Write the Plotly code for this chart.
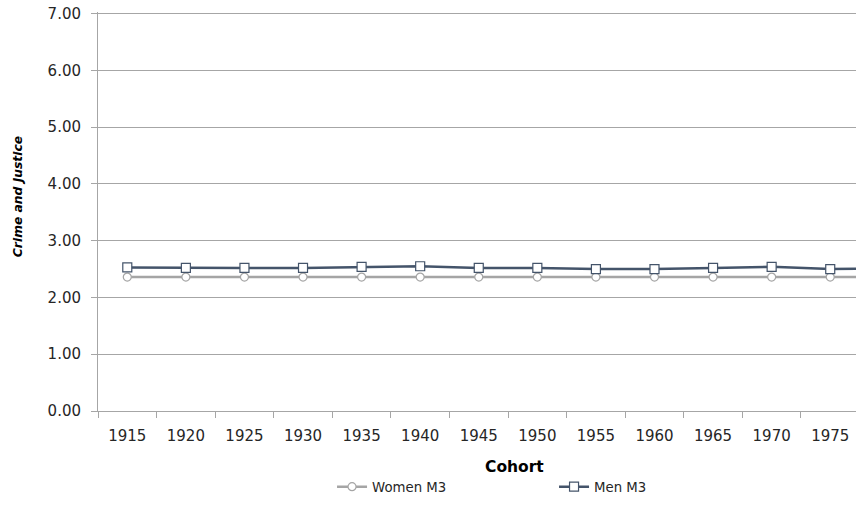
import plotly.graph_objects as go

cohorts = ["1915", "1920", "1925", "1930", "1935", "1940", "1945", "1950",
           "1955", "1960", "1965", "1970", "1975", "1980"]
women_m3 = [2.36, 2.36, 2.36, 2.36, 2.36, 2.36, 2.36, 2.36, 2.36, 2.36, 2.36, 2.36, 2.36, 2.36]
men_m3 = [2.53, 2.52, 2.52, 2.52, 2.54, 2.55, 2.52, 2.52, 2.50, 2.50, 2.52, 2.54, 2.50, 2.51]
y_ticks = [0, 1, 2, 3, 4, 5, 6, 7]
y_labels = ["%.2f" % v for v in y_ticks]

FONT = "DejaVu Sans"
TXT = "#262626"
GRID = "#A6A6A6"

fig = go.Figure()
fig.add_trace(go.Scatter(
    x=cohorts, y=women_m3, name="Women M3", mode="lines+markers",
    line=dict(color="#A5A5A5", width=2.5),
    marker=dict(symbol="circle", size=8, color="white", line=dict(color="#A5A5A5", width=1.2)),
    cliponaxis=True,
))
fig.add_trace(go.Scatter(
    x=cohorts, y=men_m3, name="Men M3", mode="lines+markers",
    line=dict(color="#44546A", width=2.5),
    marker=dict(symbol="square", size=9, color="white", line=dict(color="#44546A", width=1.2)),
    cliponaxis=True,
))

# plot area spans page x 98..856, y ~14..411
fig.update_layout(
    width=856, height=505,
    margin=dict(l=98, r=0, t=12, b=94),
    paper_bgcolor="white", plot_bgcolor="white",
    font=dict(family=FONT, size=15, color=TXT),
    showlegend=True,
    legend=dict(orientation="h", xref="container", x=0.3879, xanchor="left",
                yref="container", y=0.0356, yanchor="middle",
                entrywidth=177, entrywidthmode="pixels",
                font=dict(family=FONT, size=13.3, color=TXT),
                itemwidth=30, bgcolor="rgba(0,0,0,0)"),
    xaxis=dict(
        type="category", range=[-0.5, 12.44],
        tickson="boundaries", ticks="outside", ticklen=6, tickcolor=GRID,
        showline=True, linecolor=GRID, linewidth=1,
        showgrid=False, zeroline=False, ticklabelstandoff=11,
        tickfont=dict(family=FONT, size=15, color=TXT),
    ),
    yaxis=dict(
        range=[0, 7.03], tickvals=y_ticks, ticktext=y_labels,
        ticks="outside", ticklen=6, tickcolor=GRID,
        showline=True, linecolor=GRID, linewidth=1,
        showgrid=True, gridcolor=GRID, gridwidth=1,
        zeroline=False, ticklabelstandoff=7, ticklabeloverflow="allow",
        tickfont=dict(family=FONT, size=15, color=TXT),
    ),
    annotations=[
        dict(text="<b>Cohort</b>", xref="paper", yref="paper", x=0.549, y=-0.141,
             xanchor="center", yanchor="middle", showarrow=False,
             font=dict(family=FONT, size=15.5, color="black")),
        dict(text="<b><i>Crime and Justice</i></b>", xref="paper", yref="paper",
             x=-0.1055, y=0.536, xanchor="center", yanchor="middle", textangle=-90,
             showarrow=False, font=dict(family=FONT, size=12.3, color="black")),
    ],
)

fig.write_html("out.html", config={"displayModeBar": False},
               post_script="document.body.style.margin='0';document.body.style.overflow='hidden';")
